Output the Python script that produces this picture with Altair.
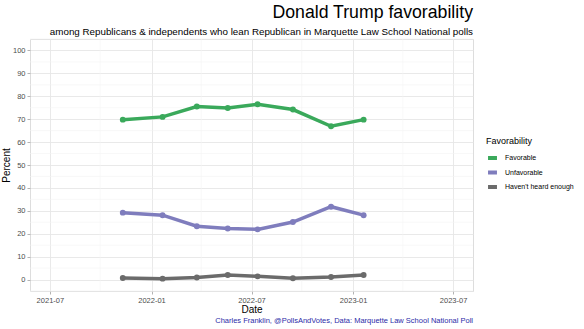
import altair as alt
import pandas as pd

dates = ["2021-11-10", "2022-01-21", "2022-03-24", "2022-05-19",
         "2022-07-12", "2022-09-14", "2022-11-22", "2023-01-20"]
favorable = [69.8, 71.0, 75.5, 74.9, 76.5, 74.2, 66.9, 69.8]
unfavorable = [29.2, 28.1, 23.3, 22.3, 21.9, 25.1, 31.8, 28.1]
havent_heard = [0.7, 0.4, 0.9, 2.0, 1.4, 0.6, 1.1, 2.0]

series_names = ["Favorable", "Unfavorable", "Haven't heard enough"]
series_colors = ["#3aa95b", "#7f7dbd", "#6b6b6b"]

y_major = list(range(0, 101, 10))
y_minor = [v + 5 for v in range(-10, 101, 10)]
x_major = ["2021-07-01", "2022-01-01", "2022-07-01", "2023-01-01", "2023-07-01"]
x_minor = ["2021-09-30", "2022-04-01", "2022-09-30", "2023-04-01"]
x_domain = ["2021-05-26", "2023-08-06"]

rows = []
for name, vals in zip(series_names, [favorable, unfavorable, havent_heard]):
    for d, v in zip(dates, vals):
        rows.append({"Date": d, "Percent": v, "Favorability": name})
df = pd.DataFrame(rows)

FONT = "Liberation Sans"


def dt(s):
    y, m, d = (int(p) for p in s.split("-"))
    return alt.DateTime(year=y, month=m, date=d)


xscale = alt.Scale(domain=[dt(s) for s in x_domain])
yscale = alt.Scale(domain=[-5, 105], nice=False, zero=False)

xaxis = alt.Axis(values=[dt(s) for s in x_major], format="%Y-%m",
                 grid=True, gridColor="#e6e6e6", gridWidth=0.9,
                 domain=False, tickColor="#b3b3b3", tickSize=3,
                 labelColor="#4d4d4d", labelFontSize=7.5, labelFont=FONT,
                 labelPadding=2, titleFont=FONT, titleFontSize=10,
                 titleFontWeight="normal", titleColor="black", titlePadding=1)
yaxis = alt.Axis(values=y_major, grid=True, gridColor="#e6e6e6", gridWidth=0.9,
                 domain=False, tickColor="#b3b3b3", tickSize=3,
                 labelColor="#4d4d4d", labelFontSize=7.5, labelFont=FONT,
                 labelPadding=2, titleFont=FONT, titleFontSize=10,
                 titleFontWeight="normal", titleColor="black", titlePadding=1)

minor_y = alt.Chart(pd.DataFrame({"v": y_minor})).mark_rule(
    color="#f3f3f3", strokeWidth=0.6).encode(
    y=alt.Y("v:Q", scale=yscale, axis=yaxis, title="Percent"))
minor_x = alt.Chart(pd.DataFrame({"d": x_minor})).mark_rule(
    color="#f3f3f3", strokeWidth=0.6).encode(
    x=alt.X("d:T", scale=xscale, axis=xaxis, title="Date"))

base = alt.Chart(df).encode(
    x=alt.X("Date:T", scale=xscale, title="Date", axis=xaxis),
    y=alt.Y("Percent:Q", scale=yscale, title="Percent", axis=yaxis),
    color=alt.Color("Favorability:N",
                    scale=alt.Scale(domain=series_names, range=series_colors),
                    legend=alt.Legend(orient="none", legendX=456, legendY=98,
                                      title="Favorability", titleFont=FONT,
                                      titleFontSize=9, titleFontWeight="normal",
                                      titleColor="black", titlePadding=5,
                                      labelFont=FONT, labelFontSize=7,
                                      labelColor="black", symbolType="stroke",
                                      symbolStrokeWidth=4, symbolSize=80,
                                      rowPadding=0.5, clipHeight=14,
                                      labelOffset=6)),
)

lines = base.mark_line(strokeWidth=3.5)
points = base.mark_point(filled=True, size=35, opacity=1)

caption = alt.Chart(pd.DataFrame({"t": ["Charles Franklin, @PollsAndVotes, Data: Marquette Law School National Poll"]})).mark_text(
    align="right", baseline="middle", font=FONT, fontSize=7.5, color="#2b2ba8"
).encode(text="t:N", x=alt.value(443), y=alt.value(282))

chart = alt.layer(minor_y, minor_x, lines, points, caption).properties(
    width=443, height=252,
    autosize=alt.AutoSizeParams(type="none"),
    padding={"left": 30, "top": 39, "right": 111, "bottom": 38},
    title=alt.TitleParams(
        text="Donald Trump favorability",
        subtitle="among Republicans & independents who lean Republican in Marquette Law School National polls",
        anchor="end", frame="group", font=FONT, fontSize=17.7, fontWeight="normal", color="black",
        subtitleFont=FONT, subtitleFontSize=9.8, subtitleColor="black",
        subtitlePadding=5, offset=2),
).configure_view(stroke="#b3b3b3", strokeWidth=1).configure(background="white")

chart.save("out.html", embed_options={"renderer": "svg", "actions": False})
